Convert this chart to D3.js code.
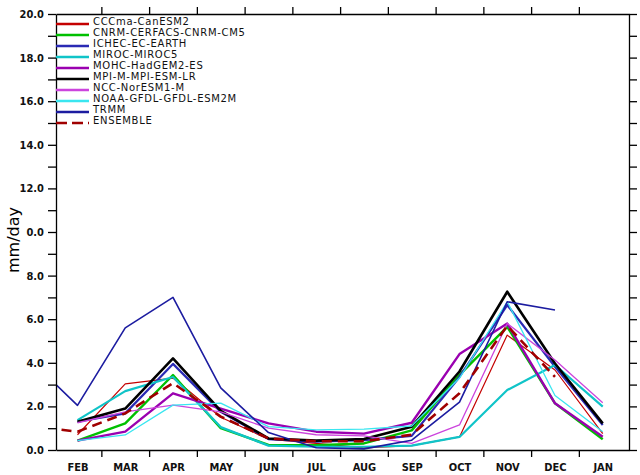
<!DOCTYPE html>
<html>
<head>
<meta charset="utf-8">
<script src="https://d3js.org/d3.v7.min.js"></script>
<style>
  body { margin: 0; background: #fff; }
  svg { display: block; }
  .axis path, .axis line { stroke: #000; stroke-width: 1.3; }
  .axis text { font-family: "DejaVu Sans Condensed", "DejaVu Sans", sans-serif; font-size: 11px; font-weight: bold; fill: #111; }
  .legend text { font-family: "DejaVu Sans", sans-serif; font-size: 10px; letter-spacing: 0.7px; fill: #111; }
</style>
</head>
<body>
<div id="chart"></div>
<script>
//================================
// Data (mm/day), models run FEB..JAN
var months = ['FEB', 'MAR', 'APR', 'MAY', 'JUN', 'JUL', 'AUG', 'SEP', 'OCT', 'NOV', 'DEC', 'JAN'];
var yTickValues = [0, 2, 4, 6, 8, 10, 12, 14, 16, 18, 20];
var yTickLabels = ['0.0', '2.0', '4.0', '6.0', '8.0', '0.0', '12.0', '14.0', '16.0', '18.0', '20.0'];

var cccma = [0.7, 3.03, 3.3, 1.5, 0.5, 0.3, 0.1, 0.2, 0.6, 5.27, 3.67, 0.75];
var cnrm  = [0.43, 1.22, 3.44, 1.0, 0.23, 0.22, 0.3, 0.9, 3.45, 5.65, 2.14, 0.49];
var ichec = [1.3, 1.68, 3.95, 1.75, 0.5, 0.38, 0.45, 0.65, 3.35, 6.65, 3.82, 1.15];
var miroc = [1.37, 2.7, 3.35, 1.05, 0.2, 0.15, 0.15, 0.2, 0.6, 2.75, 3.9, 1.99];
var mohc  = [0.43, 0.84, 2.6, 1.9, 1.22, 0.84, 0.75, 1.25, 4.4, 5.8, 2.14, 0.61];
var mpi   = [1.3, 1.9, 4.2, 1.8, 0.53, 0.43, 0.5, 1.07, 3.6, 7.26, 3.97, 1.22];
var ncc   = [1.25, 1.75, 2.06, 1.75, 1.0, 0.7, 0.65, 0.3, 1.15, 5.8, 4.13, 2.17];
var noaa  = [0.43, 0.69, 2.06, 2.15, 1.07, 0.92, 0.96, 1.1, 3.3, 6.8, 2.5, 0.84];
// TRMM and ENSEMBLE run JAN..DEC (one month earlier, first point off the left edge)
var trmm     = [4.16, 2.05, 5.6, 7.0, 2.85, 0.8, 0.1, 0.05, 0.45, 2.2, 6.8, 6.42];
var ensemble = [1.1, 0.84, 1.68, 3.07, 1.53, 0.53, 0.4, 0.4, 0.7, 2.6, 5.7, 3.35];

var series = [
  { name: 'CCCma-CanESM2',         values: cccma,    start: 0,  color: '#c40000', width: 1.2 },
  { name: 'CNRM-CERFACS-CNRM-CM5', values: cnrm,     start: 0,  color: '#00c000', width: 2.4 },
  { name: 'ICHEC-EC-EARTH',        values: ichec,    start: 0,  color: '#2a2ab4', width: 2.2 },
  { name: 'MIROC-MIROC5',          values: miroc,    start: 0,  color: '#10c4c8', width: 2.2 },
  { name: 'MOHC-HadGEM2-ES',       values: mohc,     start: 0,  color: '#9a00b0', width: 2.4 },
  { name: 'MPI-M-MPI-ESM-LR',      values: mpi,      start: 0,  color: '#000000', width: 2.6 },
  { name: 'NCC-NorESM1-M',         values: ncc,      start: 0,  color: '#cc44dd', width: 1.3 },
  { name: 'NOAA-GFDL-GFDL-ESM2M',  values: noaa,     start: 0,  color: '#3ae6f0', width: 1.3 },
  { name: 'TRMM',                  values: trmm,     start: -1, color: '#1c1ca0', width: 1.6 },
  { name: 'ENSEMBLE',              values: ensemble, start: -1, color: '#a00000', width: 2.6, dash: '10,6' }
];

//================================
// Layout
var W = 640, H = 475,
    plotL = 56, plotR = 629, plotT = 14, plotB = 450;

var svg = d3.select('#chart').append('svg')
    .attr('width', W)
    .attr('height', H);

var x = d3.scaleLinear().domain([-0.45, 11.55]).range([plotL, plotR]);
var y = d3.scaleLinear().domain([0, 20]).range([plotB, plotT]);

svg.append('clipPath').attr('id', 'plot-clip')
  .append('rect')
    .attr('x', plotL).attr('y', plotT)
    .attr('width', plotR - plotL).attr('height', plotB - plotT);

//================================
// Lines
var line = d3.line()
    .x(function(d) { return x(d.i); })
    .y(function(d) { return y(d.v); });

var lines = svg.append('g').attr('clip-path', 'url(#plot-clip)');

series.forEach(function(s) {
  var pts = s.values.map(function(v, k) { return { i: s.start + k, v: v }; });
  lines.append('path')
      .attr('d', line(pts))
      .attr('fill', 'none')
      .attr('stroke', s.color)
      .attr('stroke-width', s.width)
      .attr('stroke-dasharray', s.dash || null)
      .attr('stroke-linejoin', 'round');
});

//================================
// Axes
var edges = d3.range(0.5, 11, 1);

svg.append('g').attr('class', 'axis')
    .attr('transform', 'translate(0,' + plotB + ')')
    .call(d3.axisBottom(x).tickValues(edges).tickSize(7).tickSizeOuter(0).tickFormat(''));

svg.append('g').attr('class', 'axis')
    .attr('transform', 'translate(0,' + plotT + ')')
    .call(d3.axisTop(x).tickValues(edges).tickSize(7).tickSizeOuter(0).tickFormat(''));

var monthAxis = svg.append('g').attr('class', 'axis')
    .attr('transform', 'translate(0,' + plotB + ')')
    .call(d3.axisBottom(x).tickValues(d3.range(12)).tickSize(0).tickPadding(13)
      .tickFormat(function(d) { return months[d]; }));
monthAxis.select('.domain').remove();

svg.append('g').attr('class', 'axis')
    .attr('transform', 'translate(' + plotL + ',0)')
    .call(d3.axisLeft(y).tickValues(d3.range(0, 21, 1)).tickSize(8).tickSizeOuter(0).tickPadding(4)
      .tickFormat(function(d) {
        var k = yTickValues.indexOf(d);
        return k < 0 ? '' : yTickLabels[k];
      }));

svg.append('g').attr('class', 'axis')
    .attr('transform', 'translate(' + plotR + ',0)')
    .call(d3.axisRight(y).tickValues(d3.range(0, 21, 1)).tickSize(8).tickSizeOuter(0).tickFormat(''));

svg.append('text')
    .attr('transform', 'translate(19,' + ((plotT + plotB) / 2 + 8) + ') rotate(-90)')
    .attr('text-anchor', 'middle')
    .style('font-family', '"DejaVu Sans", sans-serif')
    .style('font-size', '16px')
    .text('mm/day');

//================================
// Legend
var legend = svg.append('g').attr('class', 'legend');

series.forEach(function(s, k) {
  var ly = 24 + k * 11;
  legend.append('line')
      .attr('x1', plotL).attr('x2', 89)
      .attr('y1', ly).attr('y2', ly)
      .attr('stroke', s.color)
      .attr('stroke-width', s.dash ? 2.6 : 2.4)
      .attr('stroke-dasharray', s.dash ? '11,5' : null);
  legend.append('text')
      .attr('x', 93)
      .attr('y', ly + 1)
      .text(s.name);
});
</script>
</body>
</html>
